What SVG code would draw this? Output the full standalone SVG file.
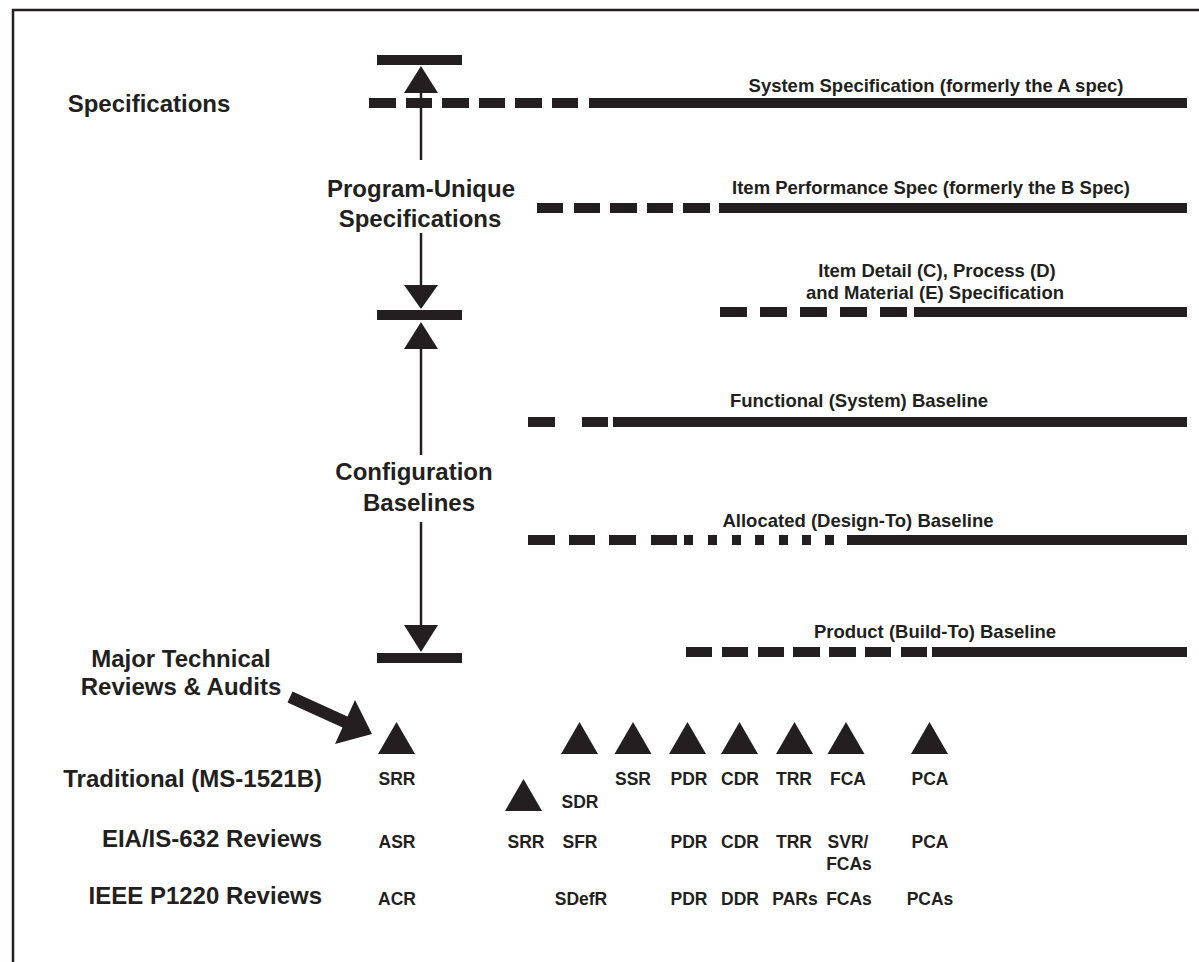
<svg xmlns="http://www.w3.org/2000/svg" width="1199" height="962" viewBox="0 0 1199 962">
<style>
.ln{fill:none;stroke:#231f20;stroke-width:10}
.tri{fill:#231f20}
.ax{stroke:#231f20;stroke-width:2.5;fill:none}
.lbl{font-family:"Liberation Sans",Arial,sans-serif;font-weight:bold;font-size:18.5px;fill:#231f20;text-anchor:middle}
.big{font-family:"Liberation Sans",Arial,sans-serif;font-weight:bold;font-size:24px;fill:#231f20;text-anchor:middle}
.row{font-family:"Liberation Sans",Arial,sans-serif;font-weight:bold;font-size:24px;fill:#231f20;text-anchor:end}
.rv{font-family:"Liberation Sans",Arial,sans-serif;font-weight:bold;font-size:17.5px;fill:#231f20;text-anchor:middle}
</style>
<defs>
<path id="rt" d="M0,-16 L18.5,16 L-18.5,16 Z"/>
</defs>
<rect width="1199" height="962" fill="#fff"/>
<path d="M13,962 V10 H1199" fill="none" stroke="#231f20" stroke-width="2.5"/>

<g id="spec-system">
<path class="ln" d="M369,103H396M406,103H432M442,103H469M479,103H505M515,103H542M552,103H578M589,103H1187"/>
<text class="lbl" x="936" y="92">System Specification (formerly the A spec)</text>
</g>
<g id="spec-item-performance">
<path class="ln" d="M537,208H563M574,208H600M610,208H637M647,208H673M683,208H710M719,208H1187"/>
<text class="lbl" x="931" y="194">Item Performance Spec (formerly the B Spec)</text>
</g>
<g id="spec-item-detail">
<path class="ln" d="M720,312H747M760,312H787M800,312H827M840,312H867M880,312H907M914,312H1187"/>
<text class="lbl" x="937" y="277">Item Detail (C), Process (D)</text>
<text class="lbl" x="935" y="299">and Material (E) Specification</text>
</g>
<g id="baseline-functional">
<path class="ln" d="M528,422H555M582,422H608M613,422H1187"/>
<text class="lbl" x="859" y="407">Functional (System) Baseline</text>
</g>
<g id="baseline-allocated">
<path class="ln" d="M528,540H555M569,540H595M609,540H636M651,540H677M684,540H693M708,540H717M732,540H741M755,540H764M779,540H788M802,540H811M825,540H834M847,540H1187"/>
<text class="lbl" x="858" y="527">Allocated (Design-To) Baseline</text>
</g>
<g id="baseline-product">
<path class="ln" d="M686,652H712M722,652H748M758,652H784M793,652H820M829,652H856M865,652H891M901,652H927M932,652H1187"/>
<text class="lbl" x="935" y="638">Product (Build-To) Baseline</text>
</g>

<g id="bars">
<path class="ln" d="M377,60H462M377,315H462M377,658H462"/>
</g>

<g id="connectors">
<line class="ax" x1="421" y1="92" x2="421" y2="160"/>
<polygon class="tri" points="404,93 438,93 421,66"/>
<line class="ax" x1="421" y1="233" x2="421" y2="287"/>
<polygon class="tri" points="404,285 438,285 421,309"/>
<polygon class="tri" points="404,349 438,349 421,322"/>
<line class="ax" x1="421" y1="348" x2="421" y2="455"/>
<line class="ax" x1="421" y1="522" x2="421" y2="626"/>
<polygon class="tri" points="404,625 438,625 421,652"/>
<polygon class="tri" points="292.5,691.5 347.5,716.5 355,700 372,734 335,744 342.5,727.5 287.5,702.5"/>
</g>

<g id="left-labels">
<text class="big" x="149" y="112">Specifications</text>
<text class="big" x="421" y="197">Program-Unique</text>
<text class="big" x="420" y="227">Specifications</text>
<text class="big" x="414" y="480">Configuration</text>
<text class="big" x="419" y="511">Baselines</text>
<text class="big" x="181" y="667">Major Technical</text>
<text class="big" x="181" y="695">Reviews &amp; Audits</text>
</g>

<g id="row-labels">
<text class="row" x="322" y="787">Traditional (MS-1521B)</text>
<text class="row" x="322" y="847">EIA/IS-632 Reviews</text>
<text class="row" x="322" y="904">IEEE P1220 Reviews</text>
</g>

<g id="review-triangles">
<use href="#rt" x="396.5" y="738" class="tri"/>
<use href="#rt" x="579.5" y="738" class="tri"/>
<use href="#rt" x="633" y="738" class="tri"/>
<use href="#rt" x="687.5" y="738" class="tri"/>
<use href="#rt" x="739.5" y="738" class="tri"/>
<use href="#rt" x="794.5" y="738" class="tri"/>
<use href="#rt" x="846" y="738" class="tri"/>
<use href="#rt" x="929.5" y="738" class="tri"/>
<use href="#rt" x="523.5" y="795" class="tri"/>
</g>

<g id="review-labels">
<text class="rv" x="397" y="785">SRR</text>
<text class="rv" x="580" y="808">SDR</text>
<text class="rv" x="633" y="785">SSR</text>
<text class="rv" x="689" y="785">PDR</text>
<text class="rv" x="740" y="785">CDR</text>
<text class="rv" x="794" y="785">TRR</text>
<text class="rv" x="848" y="785">FCA</text>
<text class="rv" x="930" y="785">PCA</text>

<text class="rv" x="397" y="848">ASR</text>
<text class="rv" x="526" y="848">SRR</text>
<text class="rv" x="580" y="848">SFR</text>
<text class="rv" x="689" y="848">PDR</text>
<text class="rv" x="740" y="848">CDR</text>
<text class="rv" x="794" y="848">TRR</text>
<text class="rv" x="848" y="848">SVR/</text>
<text class="rv" x="849" y="870">FCAs</text>
<text class="rv" x="930" y="848">PCA</text>

<text class="rv" x="397" y="905">ACR</text>
<text class="rv" x="581" y="905">SDefR</text>
<text class="rv" x="689" y="905">PDR</text>
<text class="rv" x="740" y="905">DDR</text>
<text class="rv" x="795" y="905">PARs</text>
<text class="rv" x="849" y="905">FCAs</text>
<text class="rv" x="930" y="905">PCAs</text>
</g>
</svg>
